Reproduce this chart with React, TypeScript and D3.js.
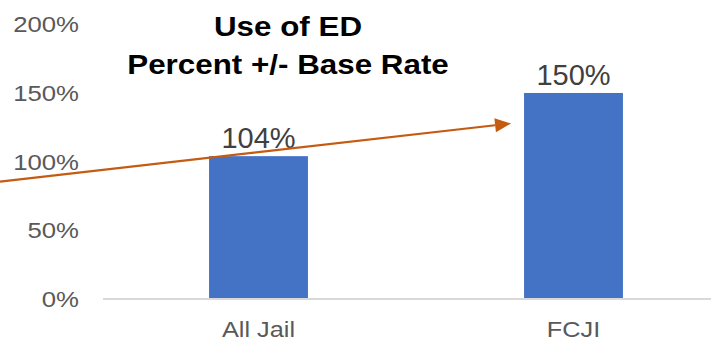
import React from "react";
import * as d3 from "d3";

const categories = ["All Jail", "FCJI"];
const values = [104, 150];
const yTicks = [0, 50, 100, 150, 200];
const titleLines = ["Use of ED", "Percent +/- Base Rate"];
// annotation arrow endpoints in data units (percent)
const arrowStartPct = 85.5;
const arrowEndPct = 127.8;

const W = 711;
const H = 341;

export default function App() {
  const x = d3
    .scaleBand<string>()
    .domain(categories)
    .range([101, 731])
    .paddingInner(0.686)
    .paddingOuter(0.343);
  const y = d3.scaleLinear().domain([0, 200]).range([299, 24.3]);
  const fmt = (v: number) => `${v}%`;

  const arrowX0 = 0;
  const arrowX1 = (x("FCJI") as number) - 13;
  const arrowY0 = y(arrowStartPct);
  const arrowY1 = y(arrowEndPct);
  const ang = Math.atan2(arrowY1 - arrowY0, arrowX1 - arrowX0);
  const headLen = 16;
  const headHalf = 7;
  const bx = arrowX1 - headLen * Math.cos(ang);
  const by = arrowY1 - headLen * Math.sin(ang);
  const px = -Math.sin(ang) * headHalf;
  const py = Math.cos(ang) * headHalf;
  const head = `M${arrowX1},${arrowY1}L${bx + px},${by + py}L${bx - px},${by - py}Z`;

  return (
    <svg
      width={W}
      height={H}
      style={{ position: "fixed", left: 0, top: 0, background: "#fff" }}
      fontFamily="'Liberation Sans', Arial, sans-serif"
    >
      {/* y tick labels */}
      {yTicks.map((t) => (
        <text
          key={t}
          transform={`translate(79,${y(t) + 8}) scale(1.12,1)`}
          textAnchor="end"
          fontSize={23}
          fill="#595959"
        >
          {fmt(t)}
        </text>
      ))}
      {/* bars */}
      {categories.map((c, i) => (
        <rect
          key={c}
          x={x(c)}
          y={y(values[i])}
          width={x.bandwidth()}
          height={y(0) - y(values[i])}
          fill="#4472C4"
        />
      ))}
      {/* baseline axis */}
      <line x1={103} x2={W} y1={y(0)} y2={y(0)} stroke="#d9d9d9" strokeWidth={2} />
      {/* category labels */}
      {categories.map((c) => (
        <text
          key={c}
          transform={`translate(${(x(c) as number) + x.bandwidth() / 2},337) scale(1.15,1)`}
          textAnchor="middle"
          fontSize={22}
          fill="#595959"
        >
          {c}
        </text>
      ))}
      {/* data labels */}
      {categories.map((c, i) => (
        <text
          key={c}
          x={(x(c) as number) + x.bandwidth() / 2}
          y={y(values[i]) - 8}
          textAnchor="middle"
          fontSize={29}
          fill="#404040"
        >
          {fmt(values[i])}
        </text>
      ))}
      {/* annotation arrow */}
      <line
        x1={arrowX0}
        y1={arrowY0}
        x2={bx}
        y2={by}
        stroke="#C55A11"
        strokeWidth={2.2}
      />
      <path d={head} fill="#C55A11" />
      {/* title */}
      {titleLines.map((l, i) => (
        <text
          key={l}
          transform={`translate(288,${36 + i * 38}) scale(1.12,1)`}
          textAnchor="middle"
          fontSize={28}
          fontWeight="bold"
          fill="#000"
        >
          {l}
        </text>
      ))}
    </svg>
  );
}
